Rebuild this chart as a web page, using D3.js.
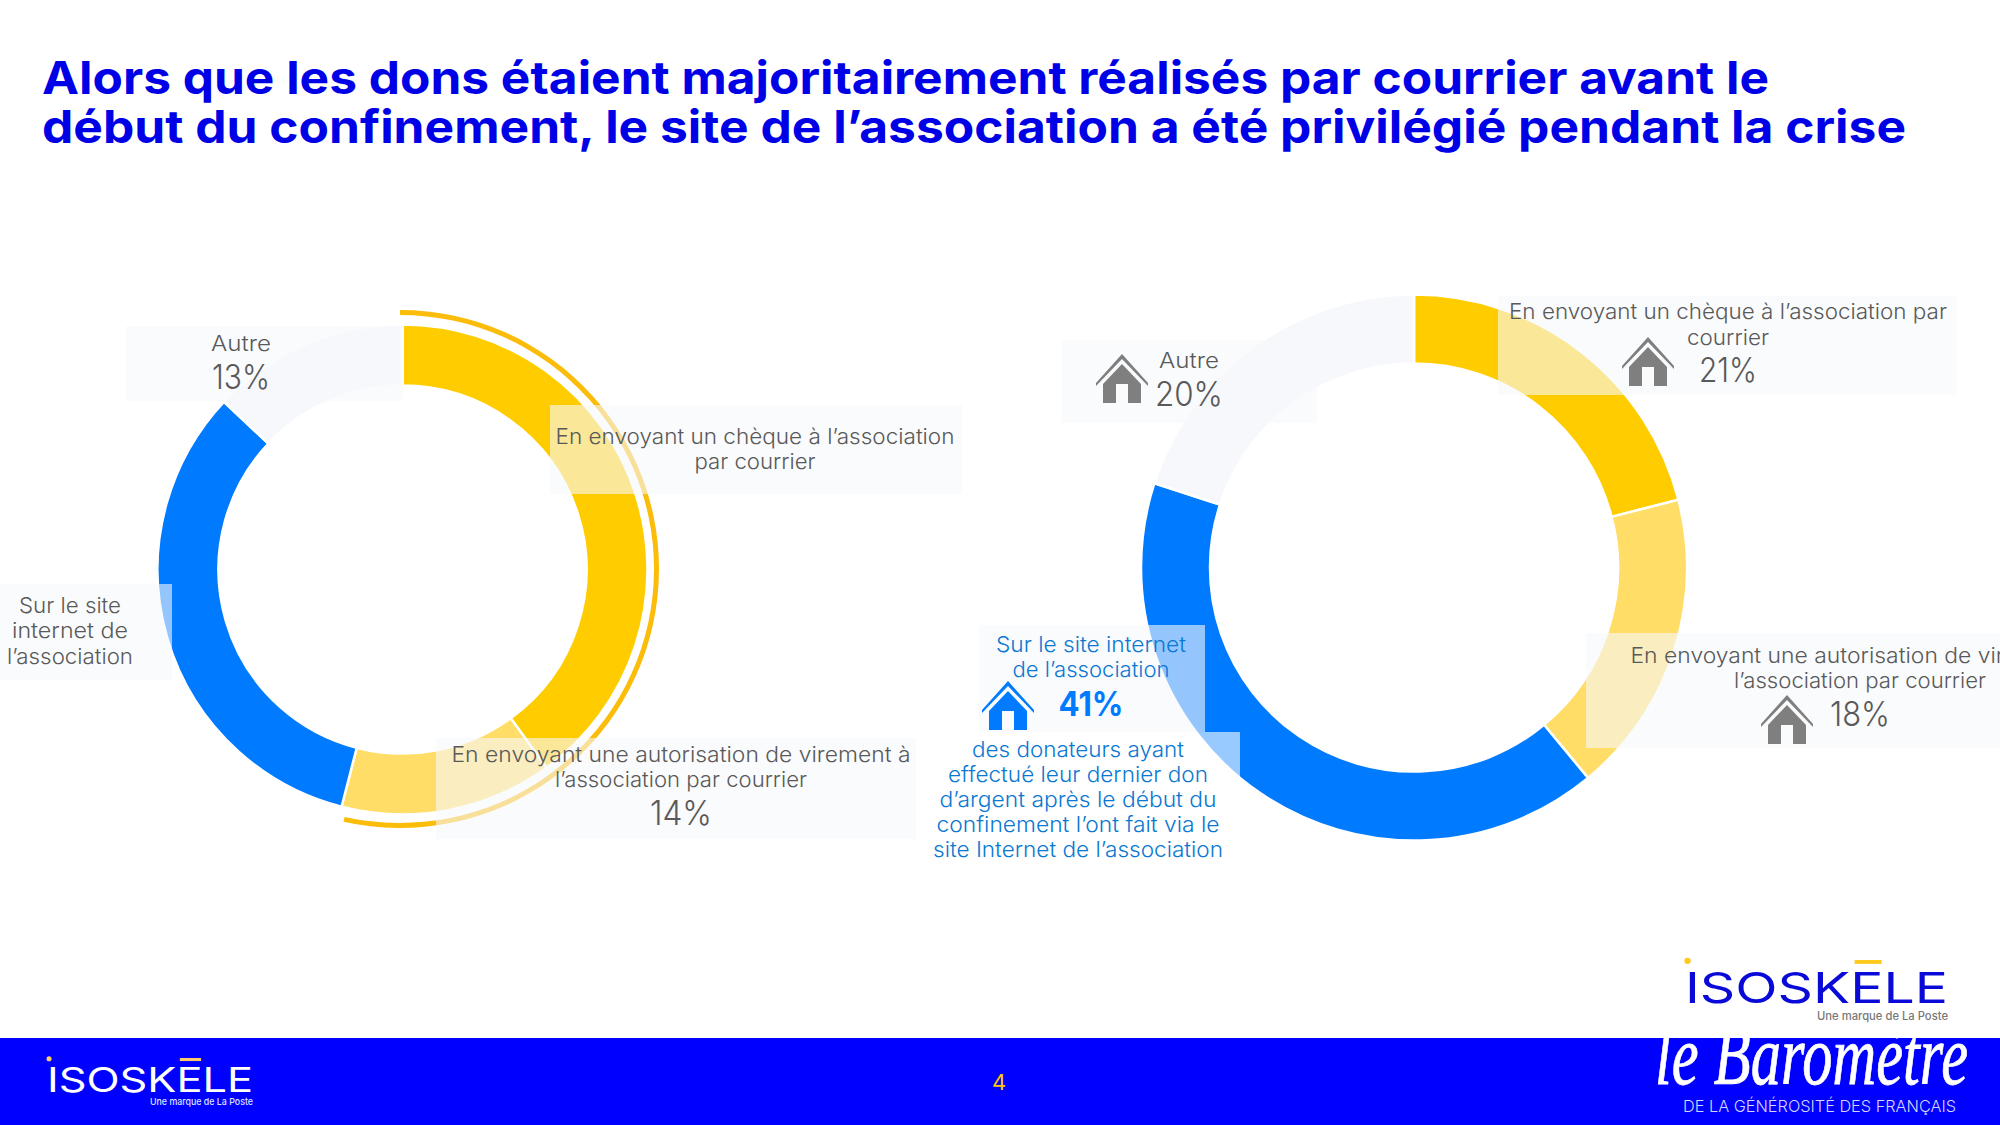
<!DOCTYPE html>
<html>
<head>
<meta charset="utf-8">
<script src="https://cdn.jsdelivr.net/npm/d3@7"></script>
<style>
body{margin:0;background:#fff;overflow:hidden}
text{font-family:Inter,"Open Sans",sans-serif}
</style>
</head>
<body>
<svg id="slide" width="2000" height="1125" viewBox="0 0 2000 1125"></svg>
<script>
// values read off the two donuts (the 40 and 33 have no printed label on the left one)
var categories = ["cheque","virement","site","autre"]
var beforeValues = [40,14,33,13]
var afterValues = [21,18,41,20]
var ringColors = ["#FFCC00","#FFDD66","#007BFF","#F7F8FC"]
var bracketShare = [0,53.5] // the outer yellow line stops a little short of the slice end

var titleLines = [
    "Alors que les dons étaient majoritairement réalisés par courrier avant le",
    "début du confinement, le site de l’association a été privilégié pendant la crise"
]
var noteLines = [
    "des donateurs ayant",
    "effectué leur dernier don",
    "d’argent après le début du",
    "confinement l’ont fait via le",
    "site Internet de l’association"
]

var svg = d3.select("#slide")
var gray = "#595959"
var blueText = "#0A78D2"

var color = d3.scaleOrdinal().domain(categories).range(ringColors)
var pie = d3.pie().sort(null).value(function(d){return d.value})

function makeRows(values){
    return categories.map(function(c,i){return {cat:c,value:values[i]}})
}

function drawRing(values,cx,cy,inner,outer){
    var g = svg.append("g").attr("transform","translate("+cx+","+cy+")")
    var arc = d3.arc().innerRadius(inner).outerRadius(outer)
    g.selectAll("path")
        .data(pie(makeRows(values)))
        .enter().append("path")
        .attr("d",arc)
        .attr("fill",function(d){return color(d.data.cat)})
        .attr("stroke","#fff")
        .attr("stroke-width",2.5)
    return g
}

drawRing(beforeValues,402.5,569.5,184,245)
drawRing(afterValues,1414,567.6,204,273)

// thin bracket round the two mail slices of the first donut
var shareToAngle = d3.scaleLinear().domain([0,100]).range([0,2*Math.PI])
svg.append("path")
    .attr("transform","translate(400,569)")
    .attr("d",d3.arc().innerRadius(254).outerRadius(259)({
        startAngle:shareToAngle(bracketShare[0]),
        endAngle:shareToAngle(bracketShare[1])
    }))
    .attr("fill","#FBBC0A")

// pale label boxes sit on top of the rings
var boxes = [
    [126,326,277,75],[550,405,412,89],[0,584,172,96],[436,738,480,101],
    [1062,340,255,83],[1498,296,459,99],[1586,633,414,115],[979,625,226,107]
]
svg.selectAll("rect.box")
    .data(boxes)
    .enter().append("rect")
    .attr("class","box")
    .attr("x",function(d){return d[0]})
    .attr("y",function(d){return d[1]})
    .attr("width",function(d){return d[2]})
    .attr("height",function(d){return d[3]})
    .attr("fill","#F7F8FC")
    .attr("fill-opacity",0.6)
svg.append("rect").attr("x",925).attr("y",732).attr("width",315).attr("height",136)
    .attr("fill","#fff").attr("fill-opacity",0.6)

function label(x,y,s,size,col,width,weight){
    var t = svg.append("text")
        .attr("x",x).attr("y",y)
        .attr("text-anchor","middle")
        .attr("font-size",size)
        .attr("font-weight",weight||300)
        .attr("fill",col)
        .text(s)
    if(width){
        t.attr("textLength",width).attr("lengthAdjust","spacingAndGlyphs")
    }
    return t
}

// title
svg.append("text").attr("x",42).attr("y",94).attr("font-size",45).attr("font-weight",700)
    .attr("fill","#0000E6").attr("textLength",1727).attr("lengthAdjust","spacingAndGlyphs").text(titleLines[0])
svg.append("text").attr("x",42).attr("y",143).attr("font-size",45).attr("font-weight",700)
    .attr("fill","#0000E6").attr("textLength",1864).attr("lengthAdjust","spacingAndGlyphs").text(titleLines[1])

// left donut labels
label(241,351,"Autre",22,gray,60)
label(241,389,beforeValues[3]+"%",34,gray,58)
label(755,444,"En envoyant un chèque à l’association",22,gray,399)
label(755,469,"par courrier",22,gray,121)
label(70,613,"Sur le site",22,gray,102)
label(70,638,"internet de",22,gray,116)
label(70,664,"l’association",22,gray,126)
label(681,762,"En envoyant une autorisation de virement à",22,gray,459)
label(681,787,"l’association par courrier",22,gray,252)
label(681,825,beforeValues[1]+"%",34,gray,62)

// right donut labels
label(1189,368,"Autre",22,gray,60)
label(1189,406,afterValues[3]+"%",34,gray,68)
label(1728,319,"En envoyant un chèque à l’association par",22,gray,438)
label(1728,345,"courrier",22,gray,82)
label(1728,382,afterValues[0]+"%",34,gray,58)
label(1860,663,"En envoyant une autorisation de virement à",22,gray,459)
label(1860,688,"l’association par courrier",22,gray,252)
label(1860,726,afterValues[1]+"%",34,gray,60)
label(1091,652,"Sur le site internet",22,blueText,190)
label(1091,677,"de l’association",22,blueText,157)
label(1091,716,afterValues[2]+"%",34,"#007BFF",65,700)
var noteWidths = [212,260,277,283,290]
var noteY = [757,782,807,832,857]
noteLines.forEach(function(s,i){
    label(1078,noteY[i],s,22,blueText,noteWidths[i])
})

// little house pictogram
function house(cx,cy,col){
    var g = svg.append("g").attr("transform","translate("+cx+","+cy+")").attr("fill",col)
    g.append("path").attr("d","M-26,4 L0,-25 L26,4 L26,7 L0,-20 L-26,7 Z")
    g.append("path").attr("d","M-19,5 L0,-15 L19,5 L19,24 L6,24 L6,5 L-6,5 L-6,24 L-19,24 Z")
}
house(1122,379,"#7F7F7F")
house(1648,362,"#7F7F7F")
house(1787,720,"#7F7F7F")
house(1008,706,"#007BFF")

// footer band
svg.append("rect").attr("x",0).attr("y",1038).attr("width",2000).attr("height",87).attr("fill","#0000FF")
svg.append("clipPath").attr("id","bandClip").append("rect")
    .attr("x",0).attr("y",1038).attr("width",2000).attr("height",87)

function logo(x,y,w,size,col,accent,subSize,subW,subY,subCol){
    svg.append("text").attr("x",x).attr("y",y).attr("font-size",size).attr("font-weight",400)
        .attr("fill",col).attr("textLength",w).attr("lengthAdjust","spacingAndGlyphs").text("ISOSKELE")
    svg.append("circle").attr("cx",x+size*0.06).attr("cy",y-size*0.98).attr("r",size*0.075).attr("fill",accent)
    svg.append("rect").attr("x",x+w*0.645).attr("y",y-size*1.0).attr("width",w*0.103).attr("height",size*0.09).attr("fill",accent)
    svg.append("text").attr("x",x+w-subW).attr("y",subY).attr("font-size",subSize)
        .attr("font-weight",500).attr("fill",subCol)
        .attr("textLength",subW).attr("lengthAdjust","spacingAndGlyphs").text("Une marque de La Poste")
}
logo(1685,1003,263,43,"#0A0AD8","#FFC91E",11.5,131,1020,"#777")
logo(47,1092,206,34,"#fff","#FFC96B",9.5,103,1105,"#dfe0ff")

label(999,1090,"4",22,"#FFC800",null,400)

svg.append("text").attr("x",1655).attr("y",1084).attr("clip-path","url(#bandClip)")
    .attr("font-size",84).attr("font-style","italic").attr("font-weight",400)
    .attr("fill","#fff").attr("stroke","#fff").attr("stroke-width",0.8)
    .attr("textLength",313).attr("lengthAdjust","spacingAndGlyphs")
    .style("font-family","'Liberation Serif',serif").text("le Baromètre")
svg.append("text").attr("x",1683).attr("y",1112).attr("font-size",16.5).attr("font-weight",300)
    .attr("fill","#D5D5FF").attr("textLength",273).attr("lengthAdjust","spacingAndGlyphs")
    .text("DE LA GÉNÉROSITÉ DES FRANÇAIS")
</script>
</body>
</html>
